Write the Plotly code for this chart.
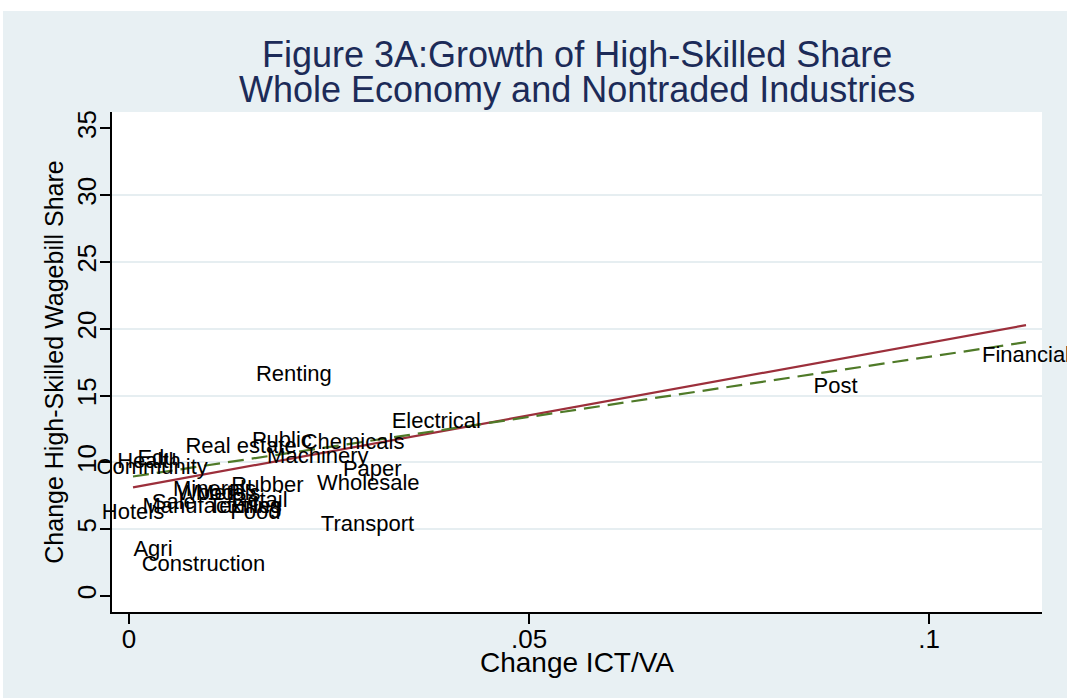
import plotly.graph_objects as go

# ---- data ----
industries = ["Financial", "Post", "Renting", "Electrical", "Chemicals", "Public",
              "Real estate", "Machinery", "Paper", "Wholesale", "Transport", "Rubber",
              "Minerals", "Wood", "Metals", "Retail", "Sale", "Manufacturing",
              "Textiles", "Food", "Hotels", "Community", "Health", "Edu", "Agri",
              "Construction"]
ict_change = [0.1121, 0.0883, 0.0206, 0.0384, 0.0280, 0.0191,
              0.0140, 0.0236, 0.0304, 0.0299, 0.0298, 0.0173,
              0.0107, 0.0096, 0.0124, 0.0163, 0.0056, 0.0104,
              0.0145, 0.0158, 0.0005, 0.0029, 0.0025, 0.0035, 0.0030,
              0.0093]
hs_change = [17.96, 15.57, 16.47, 12.95, 11.45, 11.60,
             11.15, 10.33, 9.36, 8.38, 5.31, 8.16,
             7.93, 7.56, 7.56, 7.04, 6.96, 6.59,
             6.59, 6.21, 6.14, 9.58, 9.96, 10.18, 3.44,
             2.25]

# fitted lines (intercept, slope)
fit_all = (8.08, 108.8)        # whole economy, solid red
fit_nontraded = (8.90, 90.1)   # nontraded industries, dashed green

x_ticks = [0, 0.05, 0.1]
x_tick_labels = ["0", ".05", ".1"]
y_ticks = [0, 5, 10, 15, 20, 25, 30, 35]
y_grid = [5, 10, 15, 20, 25, 30]

title_lines = ["Figure 3A:Growth of High-Skilled Share",
               "Whole Economy and Nontraded Industries"]
x_title = "Change ICT/VA"
y_title = "Change High-Skilled Wagebill Share"

FONT = "Liberation Sans, Arial, sans-serif"
BG = "#e8f0f3"

xmin, xmax = min(ict_change), max(ict_change)
x_line = [xmin, xmax]

fig = go.Figure()

fig.add_trace(go.Scatter(
    x=x_line, y=[fit_all[0] + fit_all[1] * v for v in x_line],
    mode="lines", line=dict(color="#9c2f3b", width=2.2), showlegend=False,
    hoverinfo="skip"))
fig.add_trace(go.Scatter(
    x=x_line, y=[fit_nontraded[0] + fit_nontraded[1] * v for v in x_line],
    mode="lines", line=dict(color="#4f7a28", width=2.2, dash="16px,8px"),
    showlegend=False, hoverinfo="skip"))
fig.add_trace(go.Scatter(
    x=ict_change, y=hs_change, text=industries, mode="text",
    textposition="middle center",
    textfont=dict(family=FONT, size=22, color="black"),
    showlegend=False, cliponaxis=False))

# invisible trace on the grid axis
fig.add_trace(go.Scatter(x=[xmin], y=[0], yaxis="y2", mode="markers",
                         marker=dict(opacity=0), showlegend=False,
                         hoverinfo="skip"))

x_range = [-0.002125, 0.1141]
y_range = [-1.2, 36.23]

fig.update_layout(
    width=1067, height=698,
    margin=dict(l=112, r=25, t=112, b=86),
    paper_bgcolor=BG, plot_bgcolor="white",
    xaxis=dict(
        range=x_range, tickvals=x_ticks, ticktext=x_tick_labels,
        showgrid=False, zeroline=False, showline=True, linecolor="black",
        linewidth=1.5, ticks="outside", ticklen=10, tickwidth=1.5,
        tickcolor="black", ticklabelstandoff=-7,
        tickfont=dict(family=FONT, size=26, color="black")),
    yaxis=dict(
        range=y_range, tickvals=y_ticks, showgrid=False, zeroline=False,
        showline=True, linecolor="black", linewidth=1.5, ticks="outside",
        ticklen=10, tickwidth=1.5, tickcolor="black", tickangle=-90,
        ticklabelstandoff=-6,
        tickfont=dict(family=FONT, size=26, color="black"),
        title=dict(text=y_title, standoff=1,
                   font=dict(family=FONT, size=25, color="black"))),
    yaxis2=dict(range=y_range, overlaying="y", tickvals=y_grid,
                showticklabels=False, showgrid=True, gridcolor="#e6eef1",
                gridwidth=2, zeroline=False, showline=False, ticks=""),
    annotations=[
        dict(text=title_lines[0], xref="paper", yref="paper", x=0.5,
             y=1.114, xanchor="center", yanchor="middle", showarrow=False,
             font=dict(family=FONT, size=36, color="#1c2b58")),
        dict(text=title_lines[1], xref="paper", yref="paper", x=0.5,
             y=1.044, xanchor="center", yanchor="middle", showarrow=False,
             font=dict(family=FONT, size=36, color="#1c2b58")),
        dict(text=x_title, xref="paper", yref="paper", x=0.5,
             y=-0.1, xanchor="center", yanchor="middle", showarrow=False,
             font=dict(family=FONT, size=28, color="black")),
    ],
    shapes=[
        dict(type="rect", xref="paper", yref="paper", x0=-0.2, x1=1.1,
             y0=1.202, y1=1.3, fillcolor="white", line=dict(width=0),
             layer="below"),
        dict(type="rect", xref="paper", yref="paper", x0=-0.2, x1=-0.1172,
             y0=-0.3, y1=1.3, fillcolor="white", line=dict(width=0),
             layer="below"),
    ],
)

fig.write_html("out.html",
               config={"displayModeBar": False},
               post_script="document.body.style.margin='0';"
                           "document.body.style.overflow='hidden';")
